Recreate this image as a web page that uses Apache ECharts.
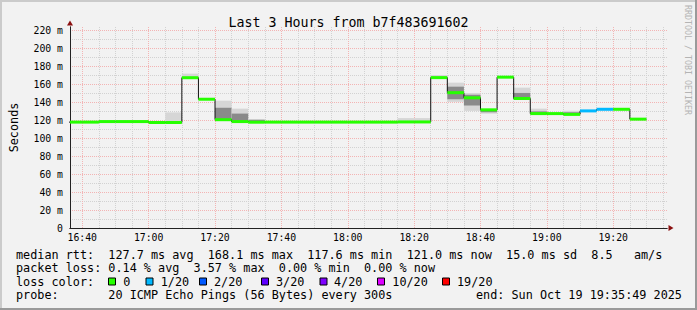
<!DOCTYPE html>
<html><head><meta charset="utf-8">
<script src="https://cdn.jsdelivr.net/npm/echarts@6/dist/echarts.min.js"></script>
<style>html,body{margin:0;padding:0;background:#f2f2f2}#c{width:697px;height:310px}</style>
</head><body><div id="c"></div>
<script>
// ---- data ----
const binTimes = ['16:35','16:40','16:45','16:50','16:55','17:00','17:05','17:10','17:15','17:20','17:25','17:30','17:35','17:40','17:45','17:50','17:55','18:00','18:05','18:10','18:15','18:20','18:25','18:30','18:35','18:40','18:45','18:50','18:55','19:00','19:05','19:10','19:15','19:20','19:25'];
const median = [118.0,118.0,118.6,118.6,118.6,117.6,117.6,167.5,143.5,120.7,118.6,117.9,118.0,118.0,118.0,118.0,118.0,118.0,118.0,118.0,118.2,118.2,167.6,150.8,145.1,131.7,168.1,144.3,127.5,127.5,126.6,130.5,132.3,132.3,121.3];
const lossIdx = [0,0,0,0,0,0,0,0,0,0,0,0,0,0,0,0,0,0,0,0,0,0,0,0,0,0,0,0,0,0,0,1,1,0,0];
const smokeMax = [null,null,120.2,120.2,119.8,null,128.8,172.0,null,141.9,133.0,121.5,null,null,null,null,null,null,null,null,122.5,122.5,170.5,162.0,150.5,131.9,null,156.4,133.0,null,130.6,null,null,null,null];
const smokeMin = [null,null,null,null,null,null,null,null,null,119.5,118.0,null,null,null,null,null,null,null,null,null,null,null,null,140.6,130.5,127.4,null,143.0,null,null,null,null,null,null,null];
const smokeQ3  = [null,null,null,null,null,null,null,null,null,134.0,127.5,120.5,null,null,null,null,null,null,null,null,null,null,null,157.5,148.5,131.7,null,150.5,130.0,null,129.0,null,null,null,null];
const smokeQ1  = [null,null,null,null,null,null,null,null,null,120.7,118.6,117.9,null,null,null,null,null,null,null,null,null,null,null,143.5,136.5,129.0,null,144.0,127.5,null,126.6,null,null,null,null];
const stepMinutes = 5;
const axisStart = '16:36:18', axisEnd = '19:36:12';
const lossColors = ['#26ff00','#00b8ff','#0059ff','#5e00ff','#7e00ff','#dd00ff','#ff0000'];
const lossLabels = ['0','1/20','2/20','3/20','4/20','10/20','19/20'];
const titleText = 'Last 3 Hours from b7f483691602';
const statsLines = [
  'median rtt:  127.7 ms avg  168.1 ms max  117.6 ms min  121.0 ms now  15.0 ms sd  8.5   am/s',
  'packet loss: 0.14 % avg  3.57 % max  0.00 % min  0.00 % now',
  'loss color:',
  'probe:       20 ICMP Echo Pings (56 Bytes) every 300s'
];
const endText = 'end: Sun Oct 19 19:35:49 2025';

// ---- helpers ----
function toMin(s){const p=s.split(':').map(Number);return p[0]*60+p[1]+(p[2]||0)/60;}
function fmtMin(v){const m=Math.round(v);const h=Math.floor(m/60),mm=m%60;return (h<10?'0':'')+h+':'+(mm<10?'0':'')+mm;}
const xMin = toMin(axisStart), xMax = toMin(axisEnd);
const starts = binTimes.map(toMin);

const smokeData = [];
const medData = [];
const stepData = [];
for (let i=0;i<starts.length;i++){
  const s=starts[i], e=s+stepMinutes, m=median[i];
  medData.push([s,e,m,lossIdx[i]]);
  stepData.push([s,m]);
  if (smokeMax[i]!=null){
    const lo = smokeMin[i]!=null?smokeMin[i]:m;
    const q1 = smokeQ1[i]!=null?smokeQ1[i]:m;
    const q3 = smokeQ3[i]!=null?smokeQ3[i]:m;
    smokeData.push([s,e,lo,smokeMax[i],q1,q3]);
  }
}
stepData.push([starts[starts.length-1]+stepMinutes, median[median.length-1]]);

const FONT = 'DejaVu Sans Mono';
const RED = '#f3b4b4', GREY = '#d2d2d2', AXIS = '#222', ARROW = '#8b1010';
const SMOKE_OUT = '#d6d6d6', SMOKE_IN = '#8a8a8a';

const chart = echarts.init(document.getElementById('c'), null, {renderer:'svg'});

const gfx = [];
gfx.push({type:'rect',shape:{x:0,y:0,width:697,height:2},style:{fill:'#cbcbcb'},silent:true});
gfx.push({type:'rect',shape:{x:0,y:0,width:2,height:310},style:{fill:'#cbcbcb'},silent:true});
gfx.push({type:'rect',shape:{x:695,y:0,width:2,height:310},style:{fill:'#9a9a9a'},silent:true});
gfx.push({type:'rect',shape:{x:0,y:308,width:697,height:2},style:{fill:'#9a9a9a'},silent:true});
const rowY = [254.5, 268, 281.5, 295];
statsLines.forEach((t,i)=>{
  gfx.push({type:'text',x:16,y:rowY[i],style:{text:t,font:'11.8px "'+FONT+'"',fill:'#000',verticalAlign:'middle'}});
});
gfx.push({type:'text',x:476,y:rowY[3],style:{text:endText,font:'11.8px "'+FONT+'"',fill:'#000',verticalAlign:'middle'}});
const boxX = [108.5,146,199.5,261.5,320,377.5,442.5];
const labX = [123.3,160.7,214,276,334,392.3,457];
lossColors.forEach((c,i)=>{
  gfx.push({type:'rect',shape:{x:boxX[i],y:278,width:7,height:7},style:{fill:c,stroke:'#000',lineWidth:1}});
  gfx.push({type:'text',x:labX[i],y:rowY[2],style:{text:lossLabels[i],font:'11.8px "'+FONT+'"',fill:'#000',verticalAlign:'middle'}});
});
gfx.push({type:'text',x:687.5,y:60,rotation:-Math.PI/2,style:{text:'RRDTOOL / TOBI OETIKER',font:'8.3px "'+FONT+'"',fill:'#b4b4b4',align:'center',verticalAlign:'middle'}});

const option = {
  backgroundColor:'#f2f2f2',
  animation:false,
  color:['#8a8a8a','#111','#26ff00'],
  title:{text:titleText,left:'center',top:11,textStyle:{fontFamily:FONT,fontSize:13.3,fontWeight:'normal',color:'#000'}},
  grid:{left:67,right:30,top:27,bottom:82,containLabel:false},
  xAxis:[
    {type:'value',position:'bottom',min:xMin,max:xMax,splitNumber:9,minInterval:20,maxInterval:20,z:1,
     axisLine:{show:true,lineStyle:{color:AXIS,width:1}},axisTick:{show:false},
     axisLabel:{show:true,margin:4,showMinLabel:false,showMaxLabel:false,formatter:fmtMin,fontFamily:FONT,fontSize:9.8,color:'#000'},
     splitLine:{show:true,showMinLine:false,showMaxLine:false,lineStyle:{color:RED,type:[1,1],width:1}}},
    {type:'value',position:'bottom',min:xMin,max:xMax,splitNumber:36,minInterval:5,maxInterval:5,z:0,
     axisLine:{show:true,symbol:['none','triangle'],symbolSize:[6,5],symbolOffset:[0,4],lineStyle:{color:ARROW,width:1}},
     axisTick:{show:false},axisLabel:{show:false},
     splitLine:{show:true,showMinLine:false,showMaxLine:false,lineStyle:{color:GREY,type:[1,1],width:1}}}
  ],
  yAxis:[
    {type:'value',position:'left',min:0,max:224,interval:20,z:1,
     name:'Seconds',nameLocation:'middle',nameGap:50,nameRotate:90,nameTextStyle:{fontFamily:FONT,fontSize:11.8,color:'#000'},
     axisLine:{show:true,lineStyle:{color:AXIS,width:1}},axisTick:{show:false},
     axisLabel:{show:true,margin:7,showMaxLabel:false,formatter:v=>v===0?'0':(v+' m'),fontFamily:FONT,fontSize:9.8,color:'#000'},
     splitLine:{show:true,showMinLine:false,showMaxLine:false,lineStyle:{color:RED,type:[1,1],width:1}}},
    {type:'value',position:'left',min:0,max:224,interval:10,z:0,
     axisLine:{show:true,symbol:['none','triangle'],symbolSize:[6,5],symbolOffset:[0,4],lineStyle:{color:ARROW,width:1}},
     axisTick:{show:false},axisLabel:{show:false},
     splitLine:{show:true,showMinLine:false,showMaxLine:false,lineStyle:{color:GREY,type:[1,1],width:1}}}
  ],
  series:[
    {type:'custom',name:'smoke',xAxisIndex:0,yAxisIndex:0,z:5,clip:true,data:smokeData,
     itemStyle:{color:SMOKE_IN},
     encode:{x:[0,1],y:[2,3]},
     renderItem:(params,api)=>{
       const cs=params.coordSys;
       const x0=Math.max(api.coord([api.value(0),0])[0],cs.x);
       const x1=api.coord([api.value(1),0])[0];
       const yHi=api.coord([0,api.value(3)])[1], yLo=api.coord([0,api.value(2)])[1];
       const yQ3=api.coord([0,api.value(5)])[1], yQ1=api.coord([0,api.value(4)])[1];
       return {type:'group',children:[
         {type:'rect',shape:{x:x0,y:yHi,width:x1-x0,height:yLo-yHi},style:{fill:SMOKE_OUT,stroke:null}},
         {type:'rect',shape:{x:x0,y:yQ3,width:x1-x0,height:Math.max(0,yQ1-yQ3)},style:{fill:SMOKE_IN,stroke:null}}
       ]};
     }},
    {type:'line',name:'median step',xAxisIndex:0,yAxisIndex:0,z:6,step:'end',data:stepData,showSymbol:false,symbol:'none',
     lineStyle:{color:'#111',width:1},itemStyle:{color:'#111'}},
    {type:'custom',name:'median',xAxisIndex:0,yAxisIndex:0,z:7,clip:true,data:medData,
     itemStyle:{color:lossColors[0]},
     encode:{x:[0,1],y:2},
     renderItem:(params,api)=>{
       const cs=params.coordSys;
       const a=api.coord([api.value(0),api.value(2)]);
       const b=api.coord([api.value(1),api.value(2)]);
       return {type:'line',shape:{x1:Math.max(a[0],cs.x),y1:a[1],x2:b[0],y2:b[1]},style:{stroke:lossColors[api.value(3)],lineWidth:3}};
     }}
  ],
  graphic:gfx
};
chart.setOption(option);
</script>
</body></html>
